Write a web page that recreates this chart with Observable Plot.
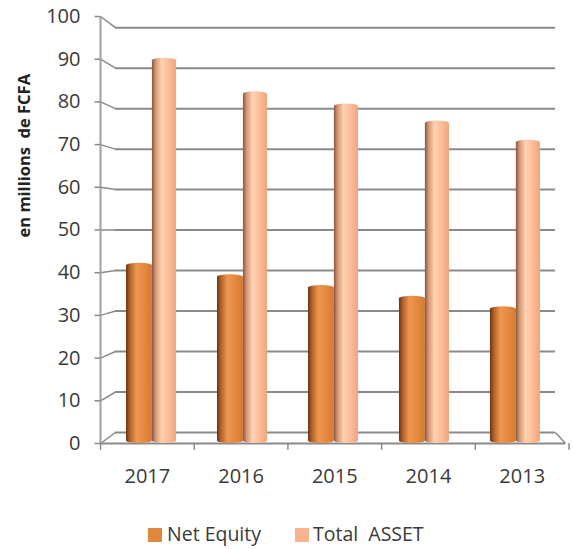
<!DOCTYPE html>
<html>
<head>
<meta charset="utf-8">
<script src="https://cdn.jsdelivr.net/npm/d3@7"></script>
<script src="https://cdn.jsdelivr.net/npm/@observablehq/plot@0.6"></script>
<style>
  body { margin: 0; background: #fff; font-family: "Open Sans", sans-serif; }
  svg text { white-space: pre; }
  #legend { position: relative; height: 29px; color: #3a3a3a; font-size: 19.5px; }
  #legend .sw { position: absolute; top: 8px; width: 14px; height: 14px; }
  #legend .lb { position: absolute; top: 1px; line-height: 26px; white-space: pre; }
</style>
</head>
<body>
<div id="chart"></div>
<div id="legend"></div>
<script>
// Net equity and total assets per year, in millions of FCFA
const years = ["2017", "2016", "2015", "2014", "2013"];
const netEquity = [42.2, 39.5, 37, 34.5, 32];
const totalAsset = [90.2, 82.4, 79.5, 75.5, 71];
const yTicks = [0, 10, 20, 30, 40, 50, 60, 70, 80, 90, 100];
const seriesNames = ["Net Equity", "Total  ASSET"];
const seriesColors = ["#e0883e", "#f9b48e"];
const yLabel = "en millions  de FCFA";

// 3-D box geometry, in x-scale (category index) and y-scale (value) units
const frontLeft = -0.571, backLeft = -0.406, backRight = 4.43, frontRight = 4.54;
const catStep = 1.03;                 // category spacing on the front floor edge
const back = v => 2.58 + 0.948 * v;   // value on the back wall, seen from the front
const barW = 0.285;

const rows = years.map((year, i) => ({ year, i, net: netEquity[i], total: totalAsset[i] }));
const grid = "#8a8a8a";
const ink = "#3a3a3a";

const chart = Plot.plot({
  width: 573,
  height: 520,
  marginLeft: 100,
  marginRight: 8,
  marginTop: 16,
  marginBottom: 77,
  style: { fontFamily: "Open Sans", fontSize: "20px", color: ink },
  x: { type: "linear", domain: [frontLeft, frontRight], axis: null },
  y: { domain: [0, 100], axis: null },
  marks: [
    // back wall gridlines and their slanted links to the front axis
    Plot.ruleY(yTicks, { y: back, x1: backLeft, x2: backRight, stroke: grid, strokeWidth: 2 }),
    Plot.link(yTicks, { x1: frontLeft, y1: v => v, x2: backLeft, y2: back, stroke: grid, strokeWidth: 1.5 }),
    // floor outline
    Plot.link([0], { x1: backRight, y1: back, x2: frontRight, y2: v => v, stroke: grid, strokeWidth: 1.5 }),
    Plot.ruleY([0], { x1: frontLeft, x2: frontRight, stroke: grid, strokeWidth: 2 }),
    Plot.ruleX(d3.range(years.length + 1), { x: k => frontLeft + catStep * k, y1: 0, y2: -1.6, stroke: grid, strokeWidth: 1.5 }),
    // front value axis with its ticks
    Plot.ruleX([frontLeft], { y1: 0, y2: 100, stroke: "#a0a0a0", strokeWidth: 2 }),
    Plot.ruleY(yTicks, { x1: frontLeft - 0.06, x2: frontLeft, stroke: grid, strokeWidth: 1.5 }),
    // cylinders
    Plot.rectY(rows, { x1: d => d.i - barW, x2: d => d.i, y1: 0, y2: "net", fill: "url(#gradNet)", rx: 13, ry: 2.5 }),
    Plot.rectY(rows, { x1: d => d.i, x2: d => d.i + barW * 0.93, y1: 0, y2: "total", fill: "url(#gradTotal)", rx: 12, ry: 2.5 }),
    // labels
    Plot.text(yTicks, { x: frontLeft, y: v => v, text: v => String(v), textAnchor: "end", dx: -20, fill: ink, fontSize: 20 }),
    Plot.text(rows, { x: d => frontLeft + catStep * (d.i + 0.5), y: 0, text: "year", dy: 33, fill: ink, fontSize: 20 }),
    Plot.text([yLabel], { frameAnchor: "left", dx: -76, dy: 7.5, rotate: -90, text: d => d, fontWeight: "bold", fontSize: 16.5, fill: "#222" })
  ]
});

// horizontal shading that gives the bars their rounded look
const defs = document.createElementNS("http://www.w3.org/2000/svg", "defs");
defs.innerHTML = `
  <linearGradient id="gradNet" x1="0" x2="1" y1="0" y2="0">
    <stop offset="0" stop-color="#6a3410"/>
    <stop offset="0.15" stop-color="#b0622a"/>
    <stop offset="0.4" stop-color="#ee9650"/>
    <stop offset="0.7" stop-color="#e6893f"/>
    <stop offset="1" stop-color="#d47a35"/>
  </linearGradient>
  <linearGradient id="gradTotal" x1="0" x2="1" y1="0" y2="0">
    <stop offset="0" stop-color="#855640"/>
    <stop offset="0.15" stop-color="#d49672"/>
    <stop offset="0.4" stop-color="#ffd2b3"/>
    <stop offset="0.7" stop-color="#fbbc96"/>
    <stop offset="1" stop-color="#f0a57f"/>
  </linearGradient>`;
chart.insertBefore(defs, chart.firstChild);
document.getElementById("chart").appendChild(chart);

// legend below the plot
const legend = document.getElementById("legend");
const legendPos = [[148, 167], [295, 313]];
seriesNames.forEach((name, k) => {
  const sw = document.createElement("span");
  sw.className = "sw";
  sw.style.left = legendPos[k][0] + "px";
  sw.style.background = seriesColors[k];
  const lb = document.createElement("span");
  lb.className = "lb";
  lb.style.left = legendPos[k][1] + "px";
  lb.textContent = name;
  legend.append(sw, lb);
});
</script>
</body>
</html>
